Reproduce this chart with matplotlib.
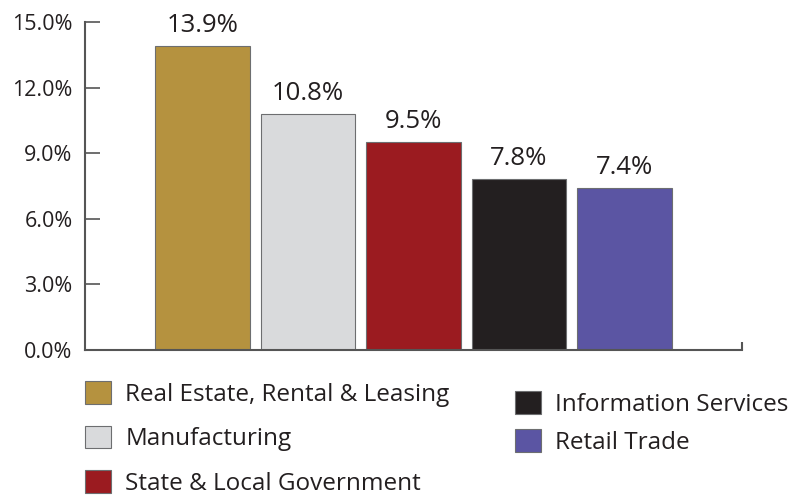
import matplotlib
matplotlib.use("Agg")
import matplotlib.pyplot as plt

categories = ["Real Estate, Rental & Leasing", "Manufacturing", "State & Local Government",
              "Information Services", "Retail Trade"]
values = [13.9, 10.8, 9.5, 7.8, 7.4]
colors = ["#B5923F", "#D9DADC", "#9B1B20", "#231F20", "#5B55A3"]
yticks = [0, 3, 6, 9, 12, 15]

plt.rcParams['font.family'] = ['Open Sans', 'DejaVu Sans']
txt = "#231F20"

fig = plt.figure(figsize=(7.97, 4.99), dpi=100)
ax = fig.add_axes([85/797, 1-350/499, (742-85)/797, (350-22)/499])

x = list(range(len(values)))
bars = ax.bar(x, values, width=0.9, color=colors, edgecolor="#6d6e70", linewidth=0.8)
for xi, v in zip(x, values):
    ax.annotate(f"{v:.1f}%", (xi, v), xytext=(0, 6), textcoords="offset points",
                ha="center", va="bottom", fontsize=18.5, color=txt)

ax.set_xlim(-1.114, 5.114)
ax.set_ylim(0, 15)
ax.set_yticks(yticks)
ax.set_yticklabels([f"{t:.1f}%" for t in yticks], fontsize=15.5, color=txt)
ax.tick_params(axis='y', direction='in', length=11, width=1.2, color="#555555", pad=9)
ax.set_xticks([5.114])
ax.set_xticklabels([""])
ax.tick_params(axis='x', direction='in', length=6, width=1.5, color="#555555")
for s in ["top", "right"]:
    ax.spines[s].set_visible(False)
for s in ["left", "bottom"]:
    ax.spines[s].set_color("#555555")
    ax.spines[s].set_linewidth(1.5)

leg1 = fig.legend(bars[:3], categories[:3], loc="upper left", bbox_to_anchor=(63/797, 1-359/499),
                  frameon=False, fontsize=17.5, handlelength=1.07, handleheight=1.07,
                  labelspacing=0.78, handletextpad=0.6, labelcolor=txt)
leg2 = fig.legend(bars[3:], categories[3:], loc="upper left", bbox_to_anchor=(493/797, 1-369/499),
                  frameon=False, fontsize=17.5, handlelength=1.07, handleheight=1.07,
                  labelspacing=0.52, handletextpad=0.6, labelcolor=txt)

fig.savefig("out.png", dpi=100)
